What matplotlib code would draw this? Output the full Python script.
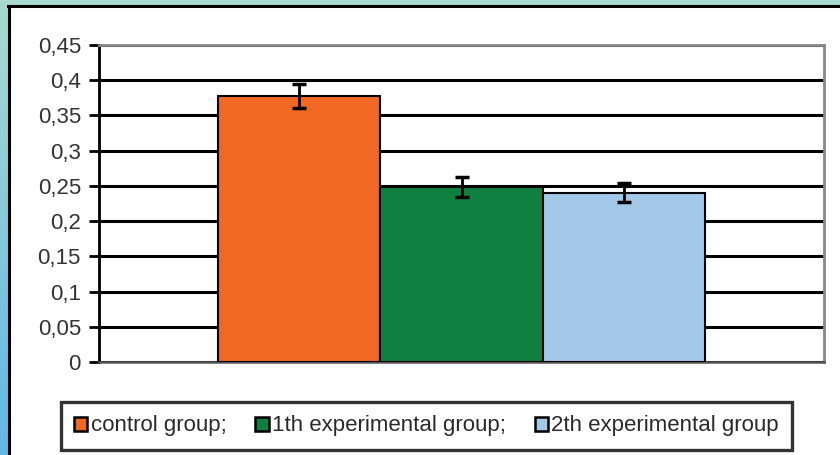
import numpy as np
import matplotlib.pyplot as plt
from matplotlib.patches import Patch, Rectangle
from matplotlib.colors import LinearSegmentedColormap
from matplotlib.ticker import FuncFormatter

# =========================
# DATA
# =========================
groups = ["control group;", "1th experimental group;", "2th experimental group"]
means = [0.378, 0.248, 0.240]
errors = [0.017, 0.014, 0.0135]
colors = ["#f06824", "#108040", "#a4c8e8"]
y_ticks = [0, 0.05, 0.1, 0.15, 0.2, 0.25, 0.3, 0.35, 0.4, 0.45]

plt.rcParams["font.family"] = ["Liberation Sans", "DejaVu Sans"]

W, H = 840, 455
fig = plt.figure(figsize=(W / 100, H / 100), dpi=100)
fig.patch.set_facecolor("white")

# =========================
# OUTER FRAME (teal / blue strips + black border)
# =========================
fig.patches.append(Rectangle((0, 1 - 5 / H), 1, 5 / H, transform=fig.transFigure,
                             facecolor="#a9d9cf", edgecolor="none", zorder=0))
strip = fig.add_axes([0, 0, 8 / W, 1 - 5 / H])
grad = np.linspace(0, 1, 256).reshape(-1, 1)
cmap = LinearSegmentedColormap.from_list("edge", ["#a9d9cf", "#62b8e6"])
strip.imshow(grad, aspect="auto", cmap=cmap, extent=[0, 1, 0, 1], origin="upper")
strip.axis("off")
fig.add_artist(plt.Line2D([9 / W, 9 / W], [0, 1 - 5.5 / H], transform=fig.transFigure,
                          color="black", lw=2.2))
fig.add_artist(plt.Line2D([8 / W, 1], [1 - 5.5 / H, 1 - 5.5 / H], transform=fig.transFigure,
                          color="black", lw=2.2))

# =========================
# BAR CHART
# =========================
ax = fig.add_axes([99 / W, 1 - 362 / H, (824 - 99) / W, (362 - 45) / H])
x = np.arange(len(groups))
ax.bar(x, means, width=1.0, color=colors, edgecolor="black", linewidth=1.5, zorder=3)
ax.errorbar(x, means, yerr=errors, fmt="none", ecolor="black", elinewidth=2,
            capsize=5, capthick=2.5, zorder=4)

ax.set_xlim(-1.235, 3.235)
ax.set_ylim(0, 0.45)
ax.set_yticks(y_ticks)
ax.yaxis.set_major_formatter(FuncFormatter(lambda v, p: f"{v:g}".replace(".", ",")))
ax.set_xticks([])
ax.yaxis.grid(True, color="black", linewidth=2.2, zorder=0)
ax.set_axisbelow(True)

ax.spines["left"].set_color("black")
ax.spines["left"].set_linewidth(2)
ax.spines["bottom"].set_color("#555555")
ax.spines["bottom"].set_linewidth(1.8)
ax.spines["top"].set_color("#888888")
ax.spines["top"].set_linewidth(2)
ax.spines["right"].set_color("#888888")
ax.spines["right"].set_linewidth(2)
ax.tick_params(axis="y", length=7, width=2, color="black", labelsize=16,
               labelcolor="#333333", pad=6)

# =========================
# LEGEND
# =========================
handles = [Patch(facecolor=c, edgecolor="black", linewidth=1.8) for c in colors]
leg = fig.legend(handles, groups, loc="center", bbox_to_anchor=(426.5 / W, 1 - 426 / H),
                 ncol=3, frameon=True, fontsize=16, handlelength=0.6, handleheight=0.6,
                 handletextpad=0.15, columnspacing=1.3, borderpad=0.6, fancybox=False,
                 labelcolor="#2a2a2a")
leg.get_frame().set_edgecolor("black")
leg.get_frame().set_linewidth(2.4)

fig.savefig("out.png", dpi=100)
